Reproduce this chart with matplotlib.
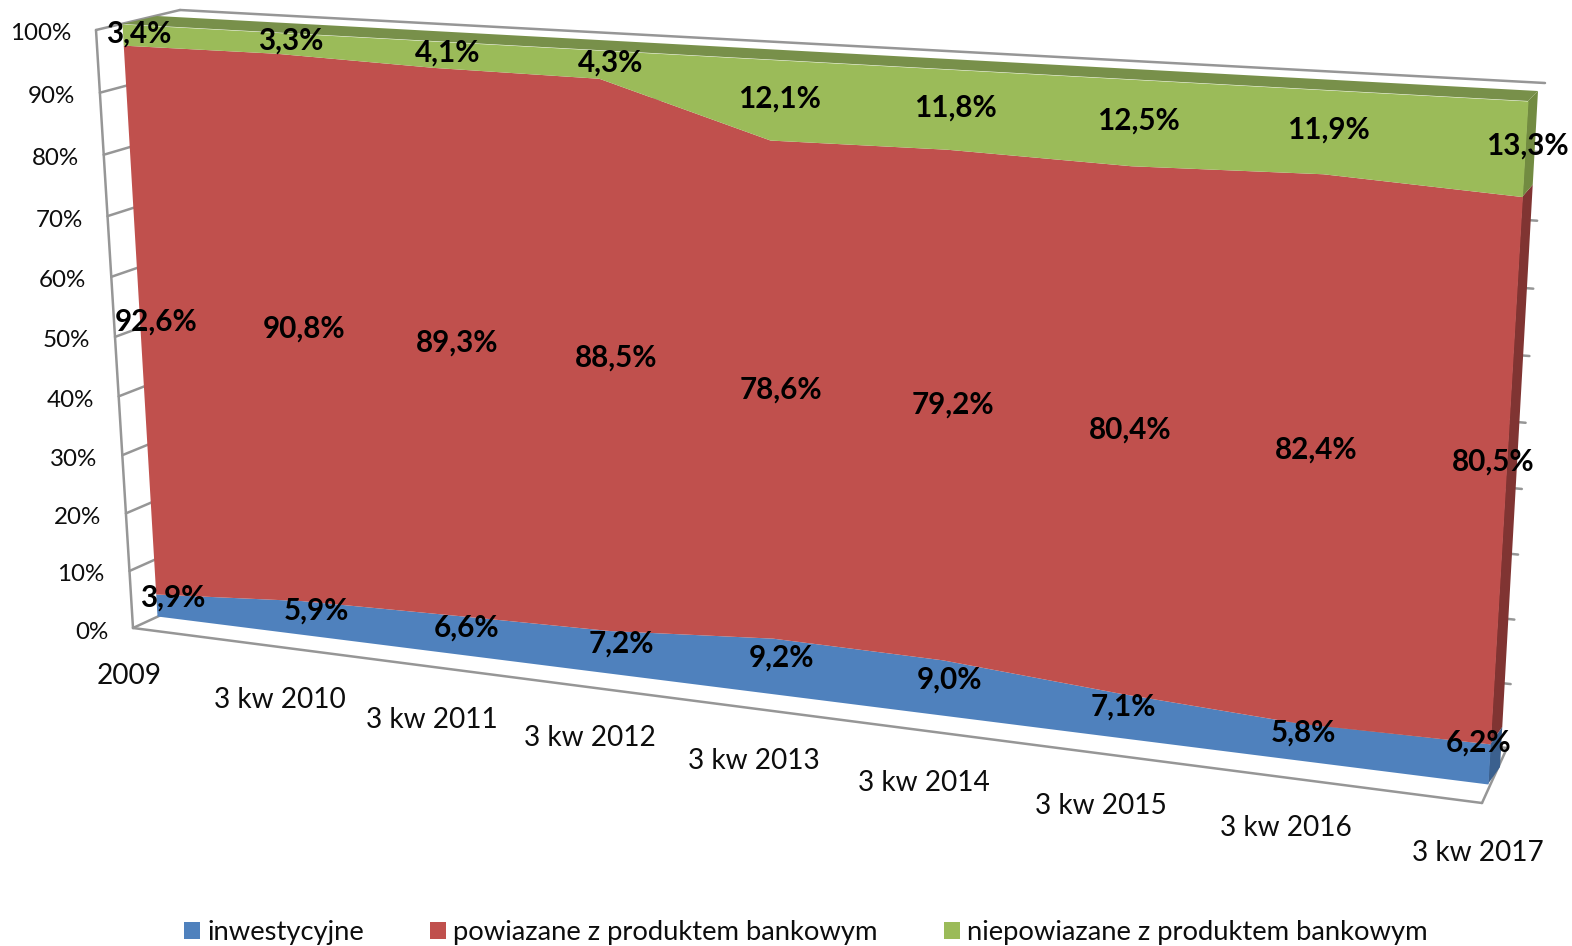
import numpy as np
import matplotlib
matplotlib.use("Agg")
import matplotlib.pyplot as plt
from matplotlib.patches import Patch
from matplotlib.transforms import Transform

# ---------- data ----------
categories = ["2009", "3 kw 2010", "3 kw 2011", "3 kw 2012", "3 kw 2013",
              "3 kw 2014", "3 kw 2015", "3 kw 2016", "3 kw 2017"]
inwestycyjne = [3.9, 5.9, 6.6, 7.2, 9.2, 9.0, 7.1, 5.8, 6.2]
powiazane = [92.6, 90.8, 89.3, 88.5, 78.6, 79.2, 80.4, 82.4, 80.5]
niepowiazane = [3.4, 3.3, 4.1, 4.3, 12.1, 11.8, 12.5, 11.9, 13.3]
series_names = ["inwestycyjne", "powiazane z produktem bankowym",
                "niepowiazane z produktem bankowym"]
y_ticks = [0, 10, 20, 30, 40, 50, 60, 70, 80, 90, 100]

# ---------- style / layout ----------
COLORS = ["#4F81BD", "#C0504D", "#9BBB59"]
SIDE = ["#3B608E", "#803432", "#728B41"]
TOP = "#78904A"
GRID = "#969696"
FONT = "Lato"
TEXT = "#0d0d0d"
XMAX = len(categories) - 1

# image-space corners: (x0,y0),(x8,y0),(x0,y100),(x8,y100)
FRONT_FACE = [(157, 616), (1488, 784), (122, 24), (1528, 101)]
BACK_FACE = [(180, 605), (1500, 767), (157, 16), (1538, 91)]
FRAME = [(133, 628), (1482, 803), (96, 30), (1525, 107)]
WALL = [(198, 598), (1507, 748), (180, 10), (1545, 83)]

LABEL_DX = [[16, 14, 13, 11, 9, 8, 6, 4, -11],
            [16, 15, 13, 12, 10, 8, 6, 5, -13],
            [16, 15, 14, 12, 10, 8, 6, 4, 2]]
LABEL_DY = [[-7, -7, -7, -8, -8, -8, -8, -9, -21],
            [-4, -5, -5, -3, -5, -6, -6, -5, -15],
            [-1, -2, -2, -2, -1, -2, -2, -2, -3]]
CAT_DX = [-4, 0, 0, 0, 0, -1, -2, -3, -4]
CAT_DY = [48, 53, 53, 51, 52, 52, 52, 50, 50]


class Perspective(Transform):
    """Projective map from (category index, percent) to image pixels."""
    input_dims = 2
    output_dims = 2
    is_separable = False
    has_inverse = False

    def __init__(self, corners):
        super().__init__()
        src = [(0, 0), (XMAX, 0), (0, 100), (XMAX, 100)]
        A, b = [], []
        for (u, v), (x, y) in zip(src, corners):
            A.append([u, v, 1, 0, 0, 0, -u * x, -v * x])
            A.append([0, 0, 0, u, v, 1, -u * y, -v * y])
            b += [x, y]
        h = np.linalg.solve(np.array(A, float), np.array(b, float))
        self.h = np.append(h, 1).reshape(3, 3)

    def transform_non_affine(self, values):
        v = np.asarray(values, float)
        p = np.c_[v, np.ones(len(v))] @ self.h.T
        return p[:, :2] / p[:, 2:]


fig = plt.figure(figsize=(15.72, 9.46), dpi=100)
ax = fig.add_axes([0, 0, 1, 1])
ax.set_xlim(0, 1572)
ax.set_ylim(946, 0)
ax.set_autoscale_on(False)
ax.set_axis_off()

front, back, frame, wall = map(Perspective, (FRONT_FACE, BACK_FACE, FRAME, WALL))


def segment(t1, p1, t2, p2, z=1):
    a = t1.transform_non_affine(np.array([p1], float))[0]
    b = t2.transform_non_affine(np.array([p2], float))[0]
    ax.plot([a[0], b[0]], [a[1], b[1]], color=GRID, lw=1.8, zorder=z,
            solid_capstyle="round")


# walls and gridlines
for p in y_ticks:
    segment(frame, (0, p), wall, (0, p))
    segment(wall, (0, p), wall, (XMAX, p))
segment(frame, (0, 0), frame, (0, 100))
segment(frame, (0, 0), frame, (XMAX, 0))
segment(frame, (XMAX, 0), wall, (XMAX, 0))

# stacked bands, normalised to 100 %
values = np.array([inwestycyjne, powiazane, niepowiazane], float)
shares = values / values.sum(axis=0) * 100
tops = np.cumsum(shares, axis=0)
bottoms = np.vstack([np.zeros(len(categories)), tops[:-1]])
x = np.arange(len(categories))

# side faces and top strip
for k in range(3):
    quad = np.vstack([
        front.transform_non_affine(np.array([[XMAX, bottoms[k, -1]], [XMAX, tops[k, -1]]])),
        back.transform_non_affine(np.array([[XMAX, tops[k, -1]], [XMAX, bottoms[k, -1]]])),
    ])
    ax.fill(quad[:, 0], quad[:, 1], color=SIDE[k], lw=0, zorder=2)
strip = np.vstack([
    front.transform_non_affine(np.array([[0, 100], [XMAX, 100]], float)),
    back.transform_non_affine(np.array([[XMAX, 100], [0, 100]], float)),
])
ax.fill(strip[:, 0], strip[:, 1], color=TOP, lw=0, zorder=2)

# front faces
front_t = front + ax.transData
for k in range(3):
    ax.fill_between(x, bottoms[k], tops[k], color=COLORS[k], lw=0, zorder=3,
                    transform=front_t)

# data labels
for k in range(3):
    for i in range(len(categories)):
        txt = f"{values[k, i]:.1f}%".replace(".", ",")
        ax.annotate(txt, xy=(i, (bottoms[k, i] + tops[k, i]) / 2), xycoords=front_t,
                    xytext=(LABEL_DX[k][i], -LABEL_DY[k][i]), textcoords="offset pixels",
                    ha="center", va="center", fontsize=21.3, fontweight="bold",
                    family=FONT, color="black", zorder=5)

# axis labels
frame_t = frame + ax.transData
for p in y_ticks:
    ax.annotate(f"{p}%", xy=(0, p), xycoords=frame_t, xytext=(-25, -4),
                textcoords="offset pixels", ha="right", va="center",
                fontsize=17.4, family=FONT, color=TEXT)
for i, c in enumerate(categories):
    ax.annotate(c, xy=(i, 0), xycoords=frame_t, xytext=(CAT_DX[i], -CAT_DY[i]),
                textcoords="offset pixels", ha="center", va="center",
                fontsize=20.2, family=FONT, color=TEXT)

# legend
handles = [Patch(facecolor=c, edgecolor="none") for c in COLORS]
ax.legend(handles, series_names, ncol=3, loc="lower left",
          bbox_to_anchor=(184, 945), bbox_transform=ax.transData,
          frameon=False, borderpad=0, borderaxespad=0,
          handlelength=0.585, handleheight=0.585, handletextpad=0.26,
          columnspacing=2.42, prop={"family": FONT, "size": 19.7},
          labelcolor=TEXT)

fig.savefig("out.png", dpi=100)
